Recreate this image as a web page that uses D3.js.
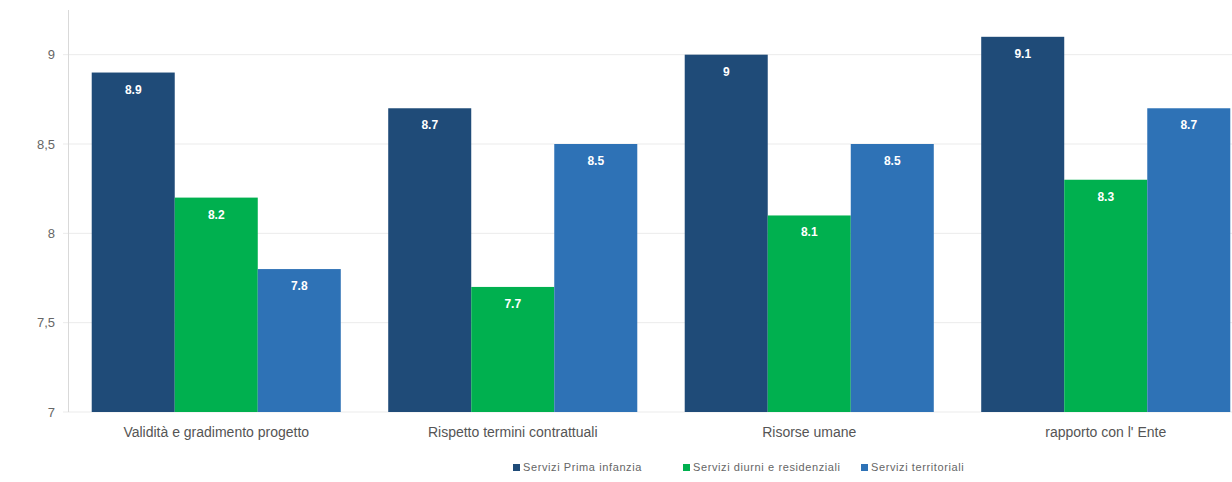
<!DOCTYPE html>
<html>
<head>
<meta charset="utf-8">
<script src="https://cdn.jsdelivr.net/npm/d3@7"></script>
<style>
  body { margin: 0; background: #fff; }
  #chart { width: 1232px; height: 482px; }
  text { font-family: "Liberation Sans", Arial, sans-serif; }
</style>
</head>
<body>
<div id="chart"></div>
<script>
// Valori
const categories = ["Validità e gradimento progetto", "Rispetto termini contrattuali", "Risorse umane", "rapporto con l' Ente"];
const seriesNames = ["Servizi Prima infanzia", "Servizi diurni e residenziali", "Servizi territoriali"];
const primaInfanzia = [8.9, 8.7, 9, 9.1];
const diurniResidenziali = [8.2, 7.7, 8.1, 8.3];
const territoriali = [7.8, 8.5, 8.5, 8.7];
const yTicks = [7, 7.5, 8, 8.5, 9];
const colors = ["#1f4b78", "#00b04f", "#2e72b6"];

const series = [primaInfanzia, diurniResidenziali, territoriali];

const width = 1232, height = 482;
const margin = {top: 10, right: 0, bottom: 70, left: 68};

const svg = d3.select("#chart").append("svg")
    .attr("width", width)
    .attr("height", height);

const yScale = d3.scaleLinear()
    .domain([7, 9.25])
    .range([height - margin.bottom, margin.top]);

const x0 = d3.scaleBand()
    .domain(categories)
    .range([margin.left, 1254])
    .paddingInner(0.16)
    .paddingOuter(0.08);

const x1 = d3.scaleBand()
    .domain(d3.range(series.length))
    .range([0, x0.bandwidth()]);

// Griglia
svg.append("g")
    .selectAll("line")
    .data(yTicks)
    .enter()
    .append("line")
    .attr("x1", margin.left - 5)
    .attr("x2", width)
    .attr("y1", d => yScale(d))
    .attr("y2", d => yScale(d))
    .attr("stroke", "#ebebeb")
    .attr("stroke-width", 1);

// Asse Y
const yAxis = d3.axisLeft(yScale)
    .tickValues(yTicks)
    .tickSize(0)
    .tickPadding(13)
    .tickFormat(d => String(d).replace(".", ","));

const gy = svg.append("g")
    .attr("transform", `translate(${margin.left},0)`)
    .call(yAxis);
gy.select(".domain").remove();
gy.selectAll("text")
    .attr("font-size", "13px")
    .attr("fill", "#666");

svg.append("line")
    .attr("x1", margin.left + 0.5)
    .attr("x2", margin.left + 0.5)
    .attr("y1", margin.top)
    .attr("y2", yScale(7))
    .attr("stroke", "#d9d9d9");

// Barre
const groups = svg.append("g")
    .selectAll("g")
    .data(categories)
    .enter()
    .append("g")
    .attr("transform", d => `translate(${x0(d)},0)`);

groups.selectAll("rect")
    .data((d, i) => series.map((s, j) => ({j, v: s[i]})))
    .enter()
    .append("rect")
    .attr("x", d => x1(d.j))
    .attr("width", x1.bandwidth())
    .attr("y", d => yScale(d.v))
    .attr("height", d => yScale(7) - yScale(d.v))
    .attr("fill", d => colors[d.j]);

groups.selectAll("text")
    .data((d, i) => series.map((s, j) => ({j, v: s[i]})))
    .enter()
    .append("text")
    .attr("x", d => x1(d.j) + x1.bandwidth() / 2)
    .attr("y", d => yScale(d.v) + 21)
    .attr("text-anchor", "middle")
    .attr("font-size", "12px")
    .attr("font-weight", "bold")
    .attr("fill", "#fff")
    .text(d => d.v);

// Etichette categorie
svg.append("g")
    .selectAll("text")
    .data(categories)
    .enter()
    .append("text")
    .attr("x", d => x0(d) + x0.bandwidth() / 2)
    .attr("y", yScale(7) + 25)
    .attr("text-anchor", "middle")
    .attr("font-size", "14px")
    .attr("fill", "#555")
    .text(d => d);

// Legenda
const legendX = [513, 683, 861];
const legend = svg.append("g")
    .selectAll("g")
    .data(seriesNames)
    .enter()
    .append("g")
    .attr("transform", (d, i) => `translate(${legendX[i]},471)`);

legend.append("rect")
    .attr("x", 0)
    .attr("y", -7)
    .attr("width", 7)
    .attr("height", 7)
    .attr("fill", (d, i) => colors[i]);

legend.append("text")
    .attr("x", 10)
    .attr("y", 0)
    .attr("font-size", "11px")
    .attr("letter-spacing", "0.6px")
    .attr("fill", "#666")
    .text(d => d);
</script>
</body>
</html>
